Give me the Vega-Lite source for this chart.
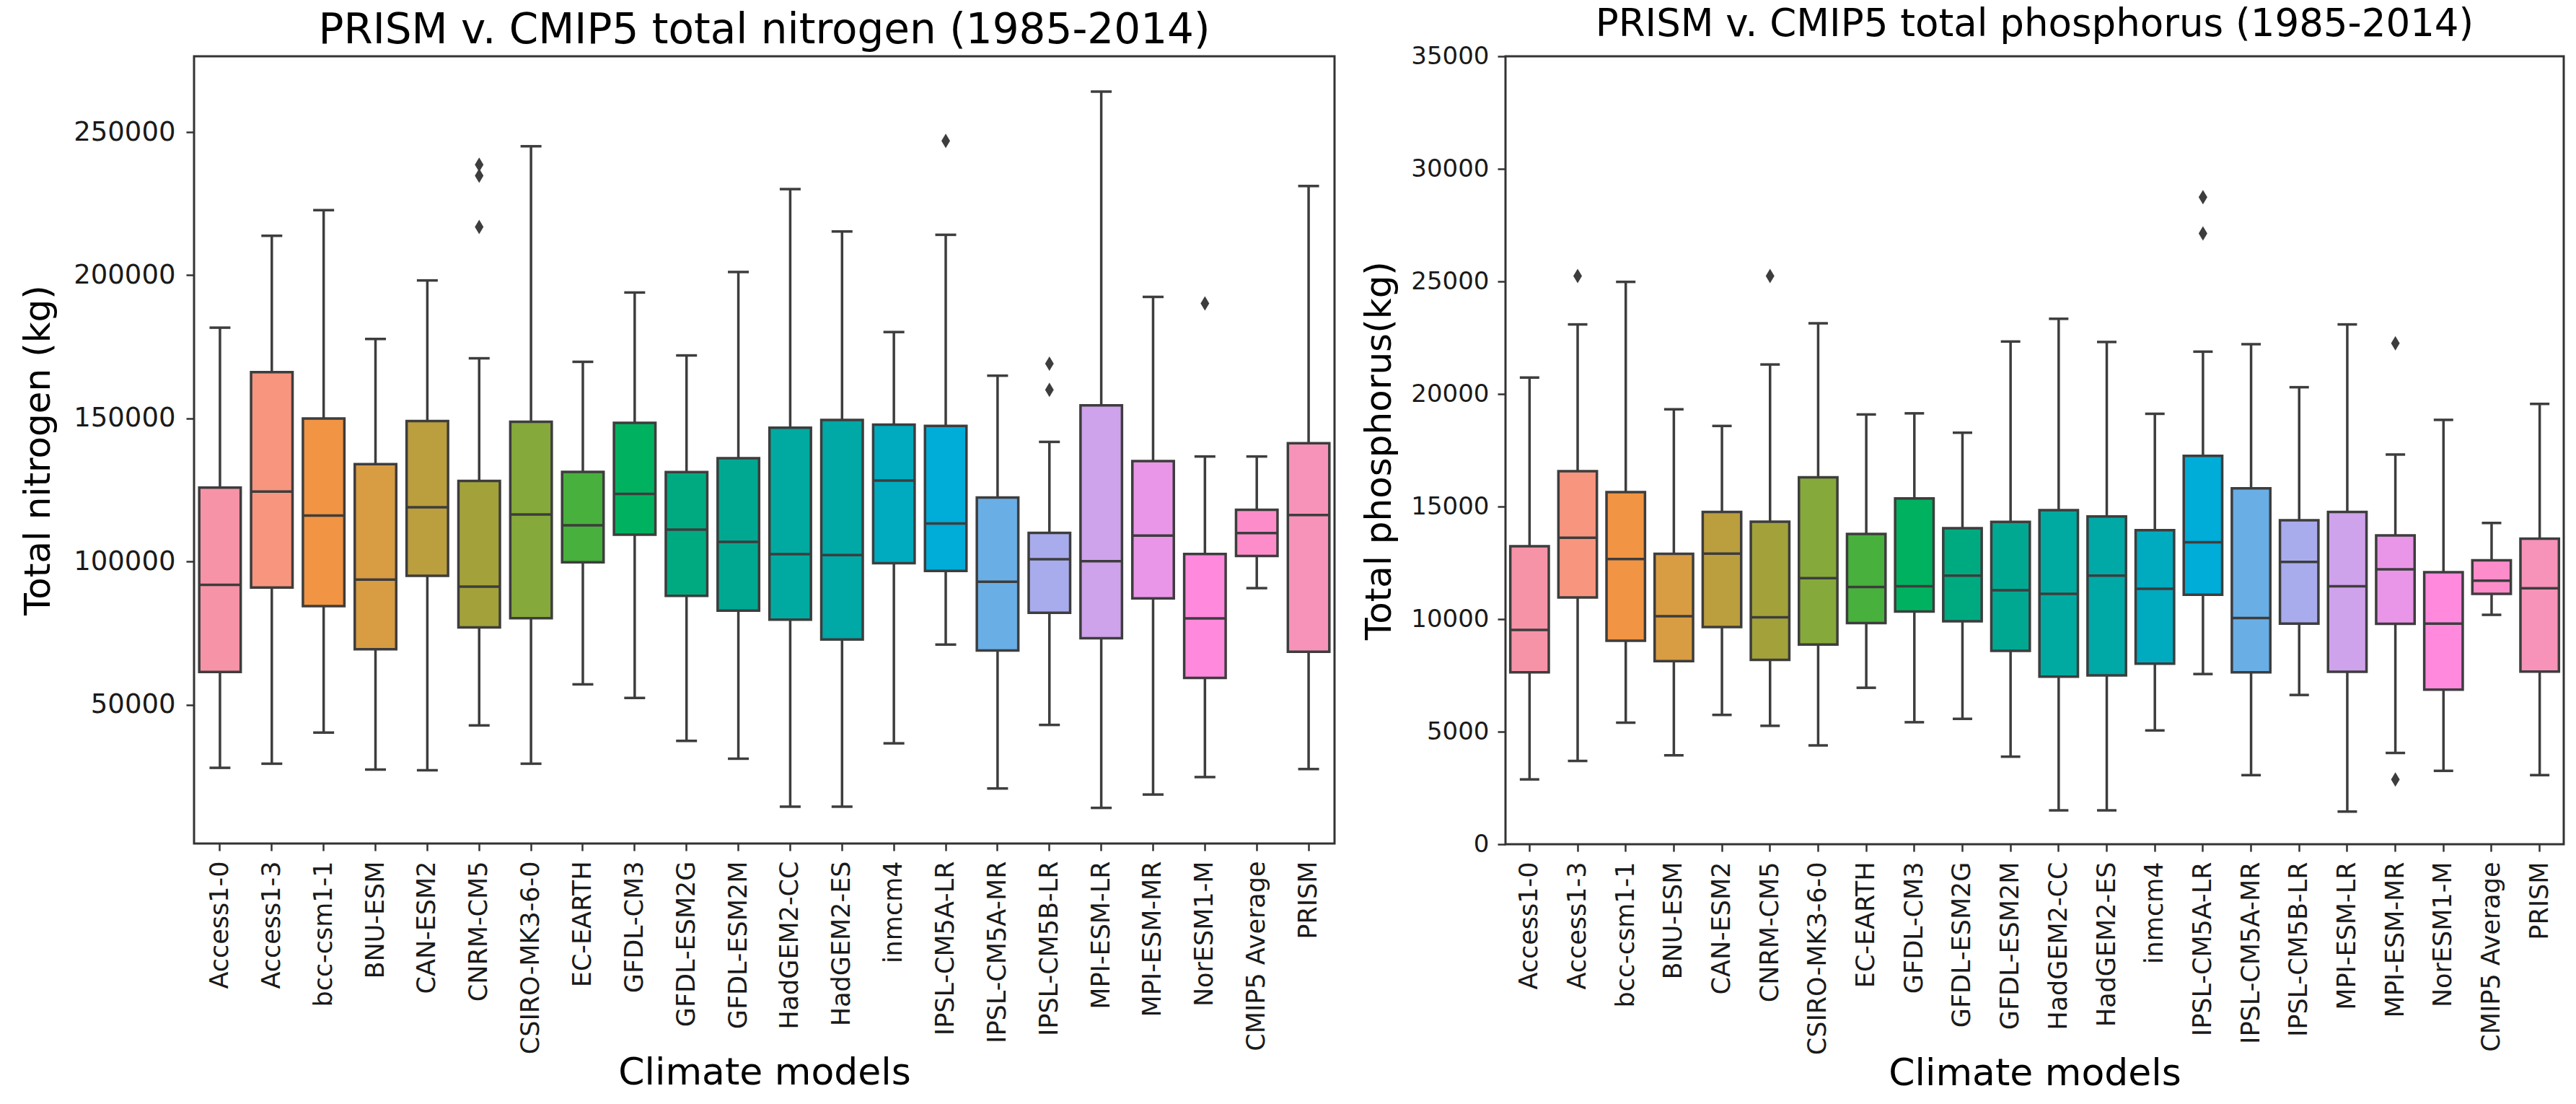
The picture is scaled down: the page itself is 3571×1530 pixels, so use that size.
{
  "$schema": "https://vega.github.io/schema/vega-lite/v6.json",
  "background": "white",
  "padding": {"left": 27, "top": 6, "right": 5, "bottom": 0},
  "spacing": 34,
  "datasets": {
    "nitrogen": [
      {"model": "Access1-0", "lower": 27940, "q1": 61400, "median": 91880, "q3": 125850, "upper": 181700},
      {"model": "Access1-3", "lower": 29380, "q1": 90890, "median": 124420, "q3": 166190, "upper": 213800},
      {"model": "bcc-csm1-1", "lower": 40250, "q1": 84440, "median": 116080, "q3": 149970, "upper": 222750},
      {"model": "BNU-ESM", "lower": 27340, "q1": 69380, "median": 93670, "q3": 134010, "upper": 177750},
      {"model": "CAN-ESM2", "lower": 27090, "q1": 95020, "median": 118950, "q3": 149070, "upper": 198200},
      {"model": "CNRM-CM5", "lower": 42760, "q1": 77000, "median": 91250, "q3": 128180, "upper": 171000},
      {"model": "CSIRO-MK3-6-0", "lower": 29380, "q1": 80230, "median": 116440, "q3": 148800, "upper": 245070},
      {"model": "EC-EARTH", "lower": 57100, "q1": 99770, "median": 112680, "q3": 131320, "upper": 169770},
      {"model": "GFDL-CM3", "lower": 52350, "q1": 109360, "median": 123610, "q3": 148440, "upper": 193980},
      {"model": "GFDL-ESM2G", "lower": 37350, "q1": 88020, "median": 111150, "q3": 131230, "upper": 172000},
      {"model": "GFDL-ESM2M", "lower": 31130, "q1": 82830, "median": 106850, "q3": 136070, "upper": 201150},
      {"model": "HadGEM2-CC", "lower": 14370, "q1": 79690, "median": 102550, "q3": 146740, "upper": 230100},
      {"model": "HadGEM2-ES", "lower": 14370, "q1": 72780, "median": 102280, "q3": 149430, "upper": 215300},
      {"model": "inmcm4", "lower": 36500, "q1": 99410, "median": 128270, "q3": 147810, "upper": 180170},
      {"model": "IPSL-CM5A-LR", "lower": 70990, "q1": 96720, "median": 113300, "q3": 147370, "upper": 214140},
      {"model": "IPSL-CM5A-MR", "lower": 20730, "q1": 68930, "median": 92950, "q3": 122360, "upper": 164930},
      {"model": "IPSL-CM5B-LR", "lower": 42930, "q1": 82110, "median": 100840, "q3": 109990, "upper": 141800},
      {"model": "MPI-ESM-LR", "lower": 13950, "q1": 73230, "median": 100130, "q3": 154540, "upper": 264160},
      {"model": "MPI-ESM-MR", "lower": 18610, "q1": 87130, "median": 109090, "q3": 135080, "upper": 192450},
      {"model": "NorESM1-M", "lower": 24710, "q1": 59340, "median": 80140, "q3": 102640, "upper": 136700},
      {"model": "CMIP5 Average", "lower": 90710, "q1": 101920, "median": 109980, "q3": 118050, "upper": 136700},
      {"model": "PRISM", "lower": 27510, "q1": 68480, "median": 116260, "q3": 141360, "upper": 231180}
    ],
    "nitrogen_out": [
      {"model": "CNRM-CM5", "value": 238600},
      {"model": "CNRM-CM5", "value": 234760},
      {"model": "CNRM-CM5", "value": 216900},
      {"model": "IPSL-CM5A-LR", "value": 246950},
      {"model": "IPSL-CM5B-LR", "value": 169140},
      {"model": "IPSL-CM5B-LR", "value": 160000},
      {"model": "NorESM1-M", "value": 190200}
    ],
    "phosphorus": [
      {"model": "Access1-0", "lower": 2880, "q1": 7640, "median": 9520, "q3": 13240, "upper": 20730},
      {"model": "Access1-3", "lower": 3700, "q1": 10960, "median": 13610, "q3": 16570, "upper": 23090},
      {"model": "bcc-csm1-1", "lower": 5400, "q1": 9040, "median": 12670, "q3": 15640, "upper": 24980},
      {"model": "BNU-ESM", "lower": 3950, "q1": 8130, "median": 10130, "q3": 12900, "upper": 19320},
      {"model": "CAN-ESM2", "lower": 5745, "q1": 9650, "median": 12910, "q3": 14760, "upper": 18580},
      {"model": "CNRM-CM5", "lower": 5260, "q1": 8190, "median": 10080, "q3": 14330, "upper": 21310},
      {"model": "CSIRO-MK3-6-0", "lower": 4390, "q1": 8870, "median": 11820, "q3": 16300, "upper": 23140},
      {"model": "EC-EARTH", "lower": 6950, "q1": 9820, "median": 11430, "q3": 13780, "upper": 19090},
      {"model": "GFDL-CM3", "lower": 5420, "q1": 10340, "median": 11460, "q3": 15360, "upper": 19140},
      {"model": "GFDL-ESM2G", "lower": 5570, "q1": 9900, "median": 11930, "q3": 14040, "upper": 18280},
      {"model": "GFDL-ESM2M", "lower": 3890, "q1": 8590, "median": 11280, "q3": 14320, "upper": 22330},
      {"model": "HadGEM2-CC", "lower": 1505, "q1": 7440, "median": 11120, "q3": 14840, "upper": 23340},
      {"model": "HadGEM2-ES", "lower": 1505, "q1": 7500, "median": 11930, "q3": 14560, "upper": 22310},
      {"model": "inmcm4", "lower": 5055, "q1": 8020, "median": 11350, "q3": 13950, "upper": 19120},
      {"model": "IPSL-CM5A-LR", "lower": 7560, "q1": 11080, "median": 13410, "q3": 17250, "upper": 21880},
      {"model": "IPSL-CM5A-MR", "lower": 3070, "q1": 7640, "median": 10050, "q3": 15810, "upper": 22210},
      {"model": "IPSL-CM5B-LR", "lower": 6630, "q1": 9800, "median": 12540, "q3": 14390, "upper": 20300},
      {"model": "MPI-ESM-LR", "lower": 1450, "q1": 7660, "median": 11460, "q3": 14760, "upper": 23090},
      {"model": "MPI-ESM-MR", "lower": 4055, "q1": 9790, "median": 12210, "q3": 13720, "upper": 17310},
      {"model": "NorESM1-M", "lower": 3260, "q1": 6870, "median": 9800, "q3": 12080, "upper": 18850},
      {"model": "CMIP5 Average", "lower": 10190, "q1": 11120, "median": 11710, "q3": 12610, "upper": 14270},
      {"model": "PRISM", "lower": 3070, "q1": 7670, "median": 11370, "q3": 13570, "upper": 19560}
    ],
    "phosphorus_out": [
      {"model": "Access1-3", "value": 25240},
      {"model": "CNRM-CM5", "value": 25240},
      {"model": "IPSL-CM5A-LR", "value": 28740},
      {"model": "IPSL-CM5A-LR", "value": 27130},
      {"model": "MPI-ESM-MR", "value": 22250},
      {"model": "MPI-ESM-MR", "value": 2880}
    ]
  },
  "hconcat": [
    {
      "width": 1581,
      "height": 1091,
      "title": {"text": "PRISM v. CMIP5 total nitrogen (1985-2014)", "fontSize": 58, "offset": 6},
      "encoding": {
        "x": {
          "field": "model", "type": "nominal", "title": "Climate models",
          "scale": {"domain": ["Access1-0","Access1-3","bcc-csm1-1","BNU-ESM","CAN-ESM2","CNRM-CM5","CSIRO-MK3-6-0","EC-EARTH","GFDL-CM3","GFDL-ESM2G","GFDL-ESM2M","HadGEM2-CC","HadGEM2-ES","inmcm4","IPSL-CM5A-LR","IPSL-CM5A-MR","IPSL-CM5B-LR","MPI-ESM-LR","MPI-ESM-MR","NorESM1-M","CMIP5 Average","PRISM"], "paddingInner": 0, "paddingOuter": 0},
          "axis": {"titleY": 292, "titleBaseline": "top"}
        }
      },
      "layer": [
        {
          "data": {"name": "nitrogen"},
          "mark": {"type": "rule", "color": "#3d3d3d", "strokeWidth": 3.5},
          "encoding": {
            "y": {"field": "lower", "type": "quantitative", "title": "Total nitrogen (kg)", "scale": {"domain": [1500, 276500], "nice": false, "zero": false}, "axis": {"values": [50000, 100000, 150000, 200000, 250000], "format": "d", "labelFontSize": 37, "labelPadding": 15, "titlePadding": 23}},
            "y2": {"field": "upper"}
          }
        },
        {
          "data": {"name": "nitrogen"},
          "mark": {"type": "tick", "color": "#3d3d3d", "thickness": 3.5, "size": 29, "opacity": 1},
          "encoding": {"y": {"field": "lower", "type": "quantitative", "title": "Total nitrogen (kg)"}}
        },
        {
          "data": {"name": "nitrogen"},
          "mark": {"type": "tick", "color": "#3d3d3d", "thickness": 3.5, "size": 29, "opacity": 1},
          "encoding": {"y": {"field": "upper", "type": "quantitative", "title": "Total nitrogen (kg)"}}
        },
        {
          "data": {"name": "nitrogen"},
          "mark": {"type": "bar", "width": {"band": 0.8}, "stroke": "#3d3d3d", "strokeWidth": 3.5, "opacity": 1},
          "encoding": {
            "y": {"field": "q1", "type": "quantitative", "title": "Total nitrogen (kg)"},
            "y2": {"field": "q3"},
            "color": {"field": "model", "type": "nominal", "legend": null,
              "scale": {"domain": ["Access1-0","Access1-3","bcc-csm1-1","BNU-ESM","CAN-ESM2","CNRM-CM5","CSIRO-MK3-6-0","EC-EARTH","GFDL-CM3","GFDL-ESM2G","GFDL-ESM2M","HadGEM2-CC","HadGEM2-ES","inmcm4","IPSL-CM5A-LR","IPSL-CM5A-MR","IPSL-CM5B-LR","MPI-ESM-LR","MPI-ESM-MR","NorESM1-M","CMIP5 Average","PRISM"],
                "range": ["#f793a7","#f7957f","#f19443","#d89c43","#bb9e3d","#a3a23a","#86a93b","#48b03c","#00b25f","#00aa80","#00a892","#00aaa0","#00a8a6","#00aabf","#00acd8","#6aaee6","#a8aced","#cfa2ec","#e996e8","#fe89dd","#fd8dca","#f792b8"]}}
          }
        },
        {
          "data": {"name": "nitrogen"},
          "mark": {"type": "tick", "color": "#3d3d3d", "thickness": 3.5, "size": 56, "opacity": 1},
          "encoding": {"y": {"field": "median", "type": "quantitative", "title": "Total nitrogen (kg)"}}
        },
        {
          "data": {"name": "nitrogen_out"},
          "mark": {"type": "point", "shape": "M0,-1L0.6,0L0,1L-0.6,0Z", "size": 400, "filled": true, "color": "#3d3d3d", "opacity": 1},
          "encoding": {"y": {"field": "value", "type": "quantitative", "title": "Total nitrogen (kg)"}}
        }
      ]
    },
    {
      "width": 1467,
      "height": 1092,
      "title": {"text": "PRISM v. CMIP5 total phosphorus (1985-2014)", "fontSize": 53, "offset": 0},
      "encoding": {
        "x": {
          "field": "model", "type": "nominal", "title": "Climate models",
          "scale": {"domain": ["Access1-0","Access1-3","bcc-csm1-1","BNU-ESM","CAN-ESM2","CNRM-CM5","CSIRO-MK3-6-0","EC-EARTH","GFDL-CM3","GFDL-ESM2G","GFDL-ESM2M","HadGEM2-CC","HadGEM2-ES","inmcm4","IPSL-CM5A-LR","IPSL-CM5A-MR","IPSL-CM5B-LR","MPI-ESM-LR","MPI-ESM-MR","NorESM1-M","CMIP5 Average","PRISM"], "paddingInner": 0, "paddingOuter": 0},
          "axis": {"titleY": 292, "titleBaseline": "top"}
        }
      },
      "layer": [
        {
          "data": {"name": "phosphorus"},
          "mark": {"type": "rule", "color": "#3d3d3d", "strokeWidth": 3.5},
          "encoding": {
            "y": {"field": "lower", "type": "quantitative", "title": "Total phosphorus(kg)", "scale": {"domain": [0, 35000], "nice": false}, "axis": {"values": [0, 5000, 10000, 15000, 20000, 25000, 30000, 35000], "format": "d", "labelFontSize": 34, "labelPadding": 12, "titlePadding": 18}},
            "y2": {"field": "upper"}
          }
        },
        {
          "data": {"name": "phosphorus"},
          "mark": {"type": "tick", "color": "#3d3d3d", "thickness": 3.5, "size": 27, "opacity": 1},
          "encoding": {"y": {"field": "lower", "type": "quantitative", "title": "Total phosphorus(kg)"}}
        },
        {
          "data": {"name": "phosphorus"},
          "mark": {"type": "tick", "color": "#3d3d3d", "thickness": 3.5, "size": 27, "opacity": 1},
          "encoding": {"y": {"field": "upper", "type": "quantitative", "title": "Total phosphorus(kg)"}}
        },
        {
          "data": {"name": "phosphorus"},
          "mark": {"type": "bar", "width": {"band": 0.8}, "stroke": "#3d3d3d", "strokeWidth": 3.5, "opacity": 1},
          "encoding": {
            "y": {"field": "q1", "type": "quantitative", "title": "Total phosphorus(kg)"},
            "y2": {"field": "q3"},
            "color": {"field": "model", "type": "nominal", "legend": null,
              "scale": {"domain": ["Access1-0","Access1-3","bcc-csm1-1","BNU-ESM","CAN-ESM2","CNRM-CM5","CSIRO-MK3-6-0","EC-EARTH","GFDL-CM3","GFDL-ESM2G","GFDL-ESM2M","HadGEM2-CC","HadGEM2-ES","inmcm4","IPSL-CM5A-LR","IPSL-CM5A-MR","IPSL-CM5B-LR","MPI-ESM-LR","MPI-ESM-MR","NorESM1-M","CMIP5 Average","PRISM"],
                "range": ["#f793a7","#f7957f","#f19443","#d89c43","#bb9e3d","#a3a23a","#86a93b","#48b03c","#00b25f","#00aa80","#00a892","#00aaa0","#00a8a6","#00aabf","#00acd8","#6aaee6","#a8aced","#cfa2ec","#e996e8","#fe89dd","#fd8dca","#f792b8"]}}
          }
        },
        {
          "data": {"name": "phosphorus"},
          "mark": {"type": "tick", "color": "#3d3d3d", "thickness": 3.5, "size": 52, "opacity": 1},
          "encoding": {"y": {"field": "median", "type": "quantitative", "title": "Total phosphorus(kg)"}}
        },
        {
          "data": {"name": "phosphorus_out"},
          "mark": {"type": "point", "shape": "M0,-1L0.6,0L0,1L-0.6,0Z", "size": 400, "filled": true, "color": "#3d3d3d", "opacity": 1},
          "encoding": {"y": {"field": "value", "type": "quantitative", "title": "Total phosphorus(kg)"}}
        }
      ]
    }
  ],
  "resolve": {"scale": {"x": "independent", "y": "independent", "color": "independent"}},
  "config": {
    "font": "DejaVu Sans",
    "view": {"stroke": "#333333", "strokeWidth": 3},
    "title": {"fontSize": 54, "fontWeight": "normal", "color": "#000000", "font": "DejaVu Sans"},
    "axis": {"domain": false, "grid": false, "tickColor": "#333333", "tickWidth": 2.5, "tickSize": 11, "labelFontSize": 35, "labelColor": "#1a1a1a", "labelFont": "DejaVu Sans", "titleFont": "DejaVu Sans", "titleFontSize": 50, "titleFontWeight": "normal", "titleColor": "#000000"},
    "axisX": {"labelAngle": -90, "labelPadding": 14, "titlePadding": 6, "labelFontSize": 35, "labelLimit": 1000, "tickSize": 10, "titleFontSize": 52},
    "axisY": {"labelPadding": 14, "titlePadding": 20}
  }
}
